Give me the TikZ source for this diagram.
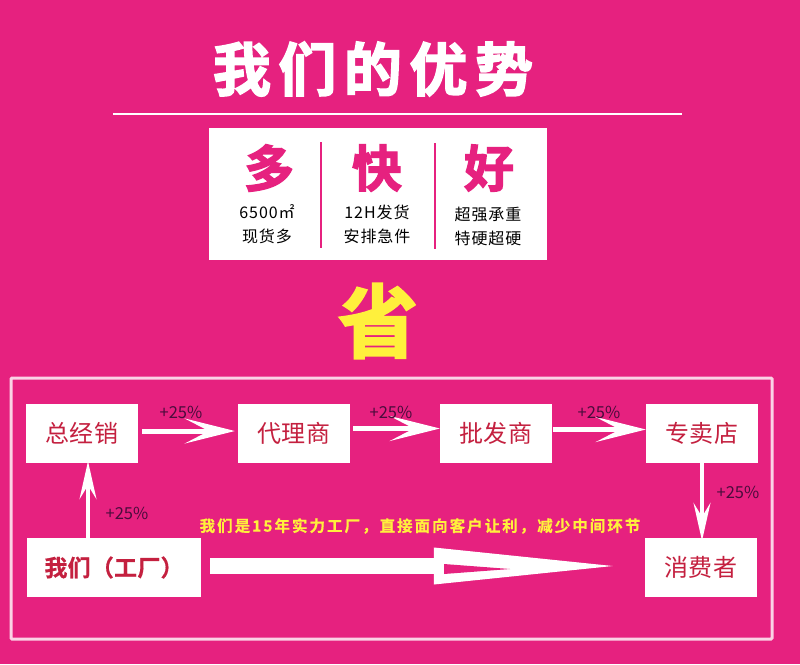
\documentclass[tikz,border=0pt]{standalone}
\usepackage{fontspec}
\usetikzlibrary{arrows.meta}
\setmainfont{Noto Sans CJK SC}
\newfontfamily\heavyfont[FakeBold=2.5]{Noto Sans CJK SC Bold}
\newfontfamily\boldfont[FakeBold=0.6]{Noto Sans CJK SC Bold}
\definecolor{rosebg}{HTML}{E6217F}
\definecolor{labelred}{HTML}{C4203F}
\definecolor{plusdark}{HTML}{4A0C3C}
\definecolor{sheng}{HTML}{FFF03C}
\tikzset{
  stepbox/.style={fill=white,minimum height=59pt,inner sep=0pt,text=labelred,font=\fontsize{24}{24}\selectfont\addfontfeature{LetterSpace=3}},
  plus/.style={text=plusdark,inner sep=0pt,font=\fontsize{16.5}{17}\selectfont},
  small/.style={text=black,inner sep=0pt,font=\fontsize{16}{16}\selectfont\addfontfeature{LetterSpace=6}},
  big/.style={text=rosebg,inner sep=0pt,font=\fontsize{50}{50}\heavyfont},
  flow/.style={white,line width=5pt,-{Stealth[length=50pt,width=25pt,inset=24pt]}},
  flowv/.style={white,line width=3.5pt,-{Stealth[length=38pt,width=17pt,inset=14pt]}}
}
\begin{document}
\begin{tikzpicture}[x=1pt,y=-1pt]
  \fill[rosebg] (0,0) rectangle (800,664);
  \node[white,inner sep=0pt,font=\fontsize{58}{58}\heavyfont\addfontfeature{LetterSpace=13}] (title) at (373,69) {我们的优势};
  \draw[white,line width=1.5pt] (113,114) -- (682,114);

  \node[fill=white,minimum width=338pt,minimum height=132pt,inner sep=0pt] (panel) at (378,194) {};
  \draw[rosebg,line width=2pt] (321,142) -- (321,248);
  \draw[rosebg,line width=2pt] (435,143) -- (435,249);
  \node[big] (duo) at (269,168) {多};
  \node[big] (kuai) at (377,168) {快};
  \node[big] (hao) at (489,168) {好};
  \node[small] (duoa) at (267,212) {6500㎡};
  \node[small] (duob) at (267,236) {现货多};
  \node[small] (kuaia) at (377,212) {12H发货};
  \node[small] (kuaib) at (377,236) {安排急件};
  \node[small] (haoa) at (488,214) {超强承重};
  \node[small] (haob) at (488,238) {特硬超硬};

  \node[text=sheng,inner sep=0pt,font=\fontsize{80}{80}\heavyfont] (save) at (378,321) {省};
  \draw[white!80!rosebg,line width=3pt,rounded corners=1pt] (11,378) rectangle (772,639);

  \node[stepbox,minimum width=112pt] (dist) at (82,433.5) {总经销};
  \node[stepbox,minimum width=112pt] (agent) at (294,433.5) {代理商};
  \node[stepbox,minimum width=112pt] (whole) at (496,433.5) {批发商};
  \node[stepbox,minimum width=112pt] (shop) at (702,433.5) {专卖店};
  \node[stepbox,minimum width=174pt,font=\fontsize{23}{23}\boldfont\addfontfeature{LetterSpace=1}] (factory) at (114,567.5) {我们（工厂）};
  \node[stepbox,minimum width=112pt] (buyer) at (701,567.5) {消费者};

  \draw[flow] ([xshift=4pt,yshift=2.5pt]dist.east) -- ([xshift=-3pt,yshift=2.5pt]agent.west);
  \draw[flow] ([xshift=3pt,yshift=5pt]agent.east) -- ([yshift=5pt]whole.west);
  \draw[flow] ([xshift=1pt,yshift=4pt]whole.east) -- ([yshift=4pt]shop.west);
  \draw[flowv] ([xshift=6pt,yshift=-1pt]factory.north -| dist.south) -- ([xshift=6pt,yshift=2pt]dist.south);
  \draw[flowv] (shop.south) -- ([yshift=-3pt]shop.south |- buyer.north);
  \draw[white,line width=16pt,-{Triangle[length=203pt,width=32pt]}] ([xshift=9pt,yshift=1.5pt]factory.east) -- ([xshift=-8pt,yshift=1.5pt]buyer.west);
  \fill[rosebg] (444,564) -- (510,569) -- (444,574) -- cycle;

  \node[plus] (plusa) at (181,412) {+25\%};
  \node[plus] (plusb) at (391,412) {+25\%};
  \node[plus] (plusc) at (599,412) {+25\%};
  \node[plus] (plusd) at (127,513) {+25\%};
  \node[plus] (pluse) at (738,492) {+25\%};
  \node[text=sheng,inner sep=0pt,font=\fontsize{15.5}{16}\boldfont\addfontfeature{LetterSpace=13}] (slogan) at (420,526) {我们是15年实力工厂，直接面向客户让利，减少中间环节};
\end{tikzpicture}
\end{document}
